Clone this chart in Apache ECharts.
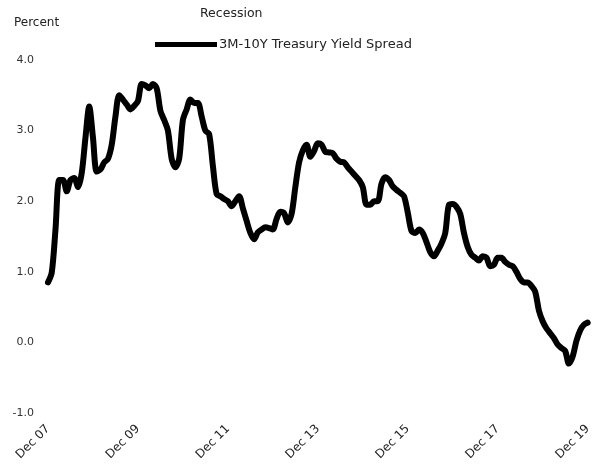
<!DOCTYPE html>
<html>
<head>
<meta charset="utf-8">
<script src="https://cdn.jsdelivr.net/npm/echarts@6/dist/echarts.min.js"></script>
<style>
  html, body { margin: 0; padding: 0; background: #fff; }
  #chart { width: 594px; height: 470px; }
</style>
</head>
<body>
<div id="chart"></div>
<script>
// monthly, Dec 2007 .. Dec 2019
const startYear = 2007
const spreadValues = [
  0.85, 0.99, 1.6, 2.3, 2.3, 2.14, 2.3, 2.33, 2.2, 2.4, 2.9, 3.34,
  2.9, 2.42, 2.45, 2.55, 2.6, 2.8, 3.2, 3.5, 3.44, 3.37, 3.3, 3.35,
  3.42, 3.66, 3.64, 3.6, 3.66, 3.6, 3.28, 3.15, 3.0, 2.6, 2.48, 2.6,
  3.15, 3.3, 3.44, 3.39, 3.39, 3.2, 3.0, 2.95, 2.5, 2.1, 2.07, 2.03,
  2.0, 1.93, 2.0, 2.07, 1.9, 1.72, 1.55, 1.46, 1.56, 1.6, 1.63, 1.62,
  1.6, 1.75, 1.85, 1.83, 1.7, 1.82, 2.2, 2.55, 2.72, 2.8, 2.63, 2.71,
  2.82, 2.8, 2.7, 2.69, 2.68, 2.6, 2.56, 2.55, 2.48, 2.42, 2.36, 2.3,
  2.2, 1.95, 1.95, 2.0, 2.0, 2.25, 2.34, 2.3, 2.21, 2.16, 2.12, 2.07,
  1.84, 1.58, 1.55, 1.6, 1.55, 1.42, 1.28, 1.22, 1.3, 1.4, 1.55, 1.95,
  1.96, 1.92, 1.82, 1.55, 1.35, 1.24, 1.2, 1.16, 1.22, 1.2, 1.08, 1.1,
  1.2, 1.2, 1.14, 1.1, 1.08, 1.0, 0.9, 0.85, 0.85, 0.8, 0.72, 0.45,
  0.3, 0.2, 0.13, 0.06, -0.03, -0.08, -0.12, -0.3, -0.2, 0.02, 0.17, 0.25,
  0.28
]
const monthNames = ['Jan', 'Feb', 'Mar', 'Apr', 'May', 'Jun', 'Jul', 'Aug', 'Sep', 'Oct', 'Nov', 'Dec']
const months = spreadValues.map((v, i) => {
  const m = (11 + i) % 12
  const y = startYear + Math.floor((11 + i) / 12)
  return monthNames[m] + ' ' + String(y).slice(2)
})
const yTicks = [-1.0, 0.0, 1.0, 2.0, 3.0, 4.0]

const font = 'DejaVu Sans'
const chart = echarts.init(document.getElementById('chart'))

const option = {
  animation: false,
  backgroundColor: '#fff',
  textStyle: { fontFamily: font },
  title: {
    text: 'Percent',
    left: 9,
    top: 12,
    textStyle: { fontSize: 12, fontWeight: 'normal', color: '#222', fontFamily: font }
  },
  legend: [
    {
      data: [{ name: 'Recession', itemStyle: { opacity: 0 } }],
      left: 160,
      top: 2,
      itemWidth: 30,
      itemGap: 5,
      textStyle: { fontSize: 12.5, color: '#222', fontFamily: font }
    },
    {
      data: ['3M-10Y Treasury Yield Spread'],
      left: 150,
      top: 33,
      itemWidth: 62,
      itemHeight: 5,
      icon: 'rect',
      itemStyle: { color: '#000' },
      textStyle: { fontSize: 13, color: '#222', fontFamily: font, padding: [0, 0, 0, -3] }
    }
  ],
  grid: {
    left: 48,
    right: 6,
    top: 60,
    bottom: 57
  },
  xAxis: {
    type: 'category',
    data: months,
    boundaryGap: false,
    axisLine: { show: false },
    axisTick: { show: false },
    splitLine: { show: false },
    axisLabel: {
      interval: 23,
      rotate: 45,
      margin: 14,
      fontSize: 12,
      color: '#222',
      fontFamily: font,
      formatter: v => v
    }
  },
  yAxis: {
    type: 'value',
    min: -1,
    max: 4,
    interval: 1,
    axisLine: { show: false },
    axisTick: { show: false },
    splitLine: { show: false },
    axisLabel: {
      margin: 14,
      fontSize: 11,
      color: '#333',
      fontFamily: font,
      formatter: v => v.toFixed(1)
    }
  },
  series: [
    {
      name: 'Recession',
      type: 'bar',
      data: [],
      itemStyle: { color: '#fff', opacity: 0 }
    },
    {
      name: '3M-10Y Treasury Yield Spread',
      type: 'line',
      data: spreadValues,
      showSymbol: false,
      smooth: 0.3,
      lineStyle: { color: '#000', width: 6, join: 'round', cap: 'round' },
      itemStyle: { color: '#000' }
    }
  ]
}

chart.setOption(option)
</script>
</body>
</html>
